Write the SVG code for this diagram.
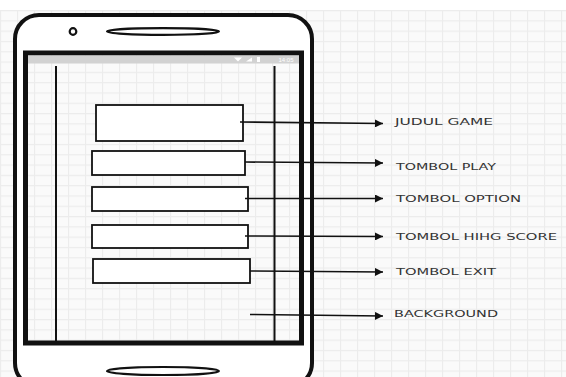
<svg xmlns="http://www.w3.org/2000/svg" width="566" height="377" viewBox="0 0 566 377">
<style>
.lbl{font-family:"DejaVu Sans","Liberation Sans",sans-serif;font-size:9.5px;fill:#333;dominant-baseline:central}
.box{fill:#fff;stroke:#111;stroke-width:1.8}
.con{stroke:#111;stroke-width:1.6;fill:none}
</style>
<defs>
<pattern id="grid" x="0" y="10" width="17" height="10.3" patternUnits="userSpaceOnUse">
<rect width="17" height="10.3" fill="#fafafa"/>
<path d="M0.5 0V10.3M0 0.5H17" stroke="#ececec" stroke-width="1.2" fill="none"/>
</pattern>
<marker id="ah" viewBox="0 0 10 10" refX="10" refY="5" markerWidth="10" markerHeight="8" markerUnits="userSpaceOnUse" orient="auto">
<path d="M0 0L10 5L0 10z" fill="#111"/>
</marker>
</defs>
<rect width="566" height="377" fill="#fff"/>
<rect x="0" y="10" width="566" height="367" fill="url(#grid)"/>
<g id="phone">
<rect x="15" y="15" width="297" height="372" rx="24" fill="#fff" stroke="#111" stroke-width="4"/>
<rect x="25.5" y="53" width="276" height="290" fill="url(#grid)" stroke="#111" stroke-width="5"/>
<rect x="28" y="55.5" width="271" height="8" fill="#d2d2d2"/>
<text x="286" y="60" font-family="Liberation Sans,sans-serif" font-size="6" fill="#fff" text-anchor="middle" dominant-baseline="central">14:05</text>
<path d="M234 57.5h8l-4 4z M246 61.5l6-4v4z" fill="#fff"/>
<rect x="257" y="57" width="3" height="5" fill="#fff"/>
<circle cx="73" cy="31.5" r="3.3" fill="#fff" stroke="#111" stroke-width="2.2"/>
<ellipse cx="163" cy="31.5" rx="56" ry="3.3" fill="#fff" stroke="#111" stroke-width="2.2"/>
<ellipse cx="163" cy="371" rx="56" ry="4" fill="#fff" stroke="#111" stroke-width="2.2"/>
<line x1="56" y1="66" x2="56" y2="343" stroke="#111" stroke-width="2"/>
<line x1="274.5" y1="66" x2="274.5" y2="341" stroke="#111" stroke-width="2"/>
</g>
<g id="judul"><rect class="box" x="96" y="105" width="147" height="36"/></g>
<g id="play"><rect class="box" x="92" y="151" width="153" height="24"/></g>
<g id="option"><rect class="box" x="92" y="187" width="156" height="24"/></g>
<g id="highscore"><rect class="box" x="92" y="225" width="156" height="23"/></g>
<g id="exit"><rect class="box" x="93" y="259" width="157" height="24"/></g>
<g id="connectors">
<path class="con" d="M240 122L383 123.5" marker-end="url(#ah)"/>
<path class="con" d="M245 162L383 163" marker-end="url(#ah)"/>
<path class="con" d="M245 198.5L383 198.5" marker-end="url(#ah)"/>
<path class="con" d="M245 236L383 236.5" marker-end="url(#ah)"/>
<path class="con" d="M250 271L383 272" marker-end="url(#ah)"/>
<path class="con" d="M250 314.5L383 316" marker-end="url(#ah)"/>
</g>
<g id="labels">
<text class="lbl" x="395" y="121.5" textLength="98" lengthAdjust="spacingAndGlyphs">JUDUL GAME</text>
<text class="lbl" x="396" y="166" textLength="100" lengthAdjust="spacingAndGlyphs">TOMBOL PLAY</text>
<text class="lbl" x="396" y="198" textLength="125" lengthAdjust="spacingAndGlyphs">TOMBOL OPTION</text>
<text class="lbl" x="396" y="236" textLength="161" lengthAdjust="spacingAndGlyphs">TOMBOL HIHG SCORE</text>
<text class="lbl" x="396" y="271" textLength="100" lengthAdjust="spacingAndGlyphs">TOMBOL EXIT</text>
<text class="lbl" x="394" y="313" textLength="104" lengthAdjust="spacingAndGlyphs">BACKGROUND</text>
</g>
</svg>
